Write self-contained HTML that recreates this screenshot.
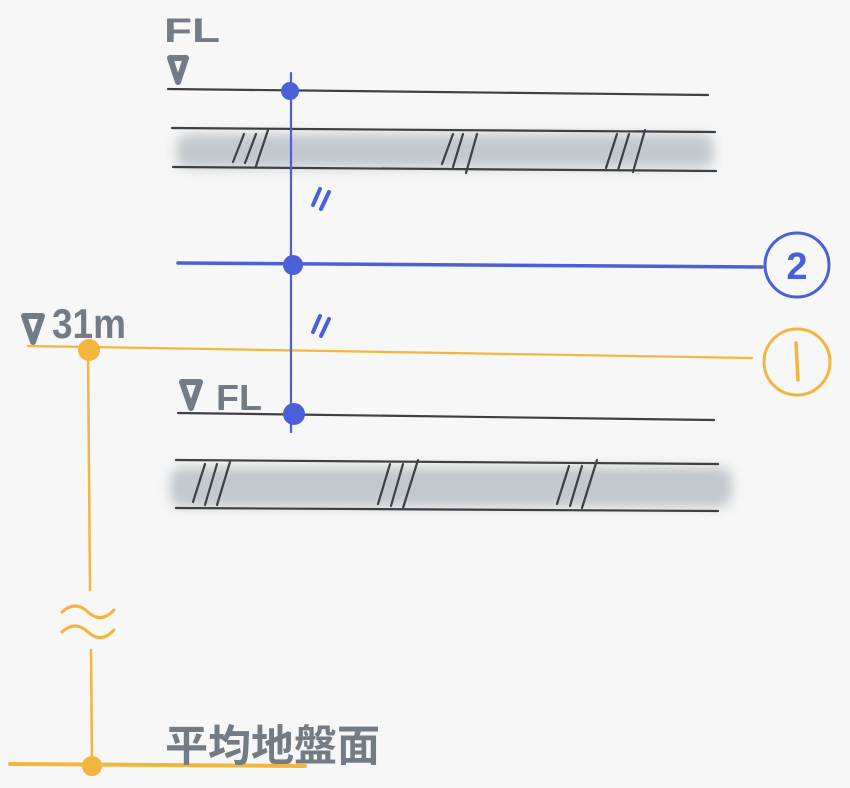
<!DOCTYPE html>
<html><head><meta charset="utf-8"><style>
html,body{margin:0;padding:0;background:#f7f7f7;}
svg{display:block}
</style></head><body>
<svg width="850" height="788" viewBox="0 0 850 788" xmlns="http://www.w3.org/2000/svg">
<defs>
<filter id="b" x="-10%" y="-50%" width="120%" height="200%"><feGaussianBlur stdDeviation="6"/></filter>
</defs>
<rect width="850" height="788" fill="#f7f7f7"/>
<!-- slabs gray -->
<rect x="176" y="134" width="538" height="34" rx="12" fill="#c2c8ce" filter="url(#b)"/>
<rect x="170" y="467" width="562" height="40" rx="12" fill="#c2c8ce" filter="url(#b)"/>
<g stroke="#3f3f44" stroke-width="2.2" fill="none" stroke-linecap="round">
<line x1="168" y1="89" x2="708" y2="95"/>
<line x1="172" y1="128" x2="715" y2="132"/>
<line x1="173" y1="167" x2="716" y2="171"/>
<line x1="178" y1="413" x2="714" y2="420"/>
<line x1="176" y1="460" x2="718" y2="464"/>
<line x1="176" y1="508" x2="718" y2="511"/>
<!-- hatches -->
<line x1="233" y1="162" x2="244" y2="134"/><line x1="245" y1="163" x2="256" y2="134"/><line x1="256" y1="166" x2="268" y2="130"/>
<line x1="442" y1="164" x2="453" y2="134"/><line x1="453" y1="167" x2="463" y2="134"/><line x1="466" y1="173" x2="477" y2="134"/>
<line x1="606" y1="168" x2="617" y2="134"/><line x1="618" y1="170" x2="629" y2="134"/><line x1="633" y1="172" x2="645" y2="130"/>
<line x1="193" y1="502" x2="205" y2="464"/><line x1="205" y1="505" x2="217" y2="464"/><line x1="217" y1="505" x2="230" y2="462"/>
<line x1="378" y1="504" x2="390" y2="464"/><line x1="391" y1="506" x2="403" y2="464"/><line x1="403" y1="508" x2="418" y2="460"/>
<line x1="557" y1="504" x2="569" y2="466"/><line x1="570" y1="506" x2="582" y2="466"/><line x1="582" y1="508" x2="597" y2="460"/>
</g>
<!-- orange -->
<g stroke="#f4b53f" fill="none" stroke-linecap="round">
<line x1="28" y1="346" x2="752" y2="358" stroke-width="2.2"/>
<line x1="88" y1="350" x2="90" y2="590" stroke-width="2.5"/>
<line x1="91" y1="650" x2="92" y2="765" stroke-width="2.5"/>
<path d="M62 612 Q75 600 88 612 T114 610" stroke-width="3"/>
<path d="M62 632 Q75 620 88 632 T114 630" stroke-width="3"/>
<line x1="10" y1="764" x2="305" y2="766" stroke-width="4"/>
<circle cx="797" cy="362" r="33" stroke-width="3"/>
</g>
<line x1="796" y1="343" x2="798" y2="380" stroke="#f4b53f" stroke-width="3.5" stroke-linecap="round"/>
<circle cx="89" cy="350" r="11" fill="#f4b53f"/>
<circle cx="92" cy="766" r="10" fill="#f4b53f"/>
<!-- blue -->
<g stroke="#4a5fd8" fill="none" stroke-linecap="round">
<line x1="291" y1="73" x2="291" y2="432" stroke-width="2.2"/>
<line x1="178" y1="263" x2="762" y2="267" stroke-width="3.5"/>
<circle cx="797" cy="265" r="32" stroke-width="3"/>
<line x1="313" y1="205" x2="320" y2="189" stroke-width="4"/><line x1="321" y1="209" x2="329" y2="192" stroke-width="4"/>
<line x1="313" y1="332" x2="320" y2="316" stroke-width="4"/><line x1="321" y1="336" x2="329" y2="319" stroke-width="4"/>
</g>
<circle cx="290" cy="91" r="9" fill="#4a5fd8"/>
<circle cx="293" cy="265" r="10" fill="#4a5fd8"/>
<circle cx="294" cy="414" r="11" fill="#4a5fd8"/>
<text x="797" y="279" text-anchor="middle" font-family="Liberation Sans, sans-serif" font-size="38" font-weight="bold" fill="#4a5fd8">2</text>
<!-- gray labels -->
<g fill="#737c85" font-family="Liberation Sans, sans-serif" font-weight="bold">
<text x="164" y="42" font-size="34" textLength="56" lengthAdjust="spacingAndGlyphs">FL</text>
<path d="M170 58 L186 58 L178 82 Z" fill="none" stroke="#737c85" stroke-width="6" stroke-linejoin="round"/>
<path d="M24 316 L42 316 L33 342 Z" fill="none" stroke="#737c85" stroke-width="6" stroke-linejoin="round"/>
<text x="52" y="338" font-size="42" textLength="74" lengthAdjust="spacingAndGlyphs">31m</text>
<path d="M182 382 L200 382 L191 408 Z" fill="none" stroke="#737c85" stroke-width="6" stroke-linejoin="round"/>
<text x="216" y="410" font-size="36" textLength="46" lengthAdjust="spacingAndGlyphs">FL</text>
<text x="165" y="761" font-size="43" textLength="215" lengthAdjust="spacingAndGlyphs" font-family="Liberation Sans, Noto Sans CJK JP, sans-serif">平均地盤面</text>
</g>
</svg>
</body></html>
